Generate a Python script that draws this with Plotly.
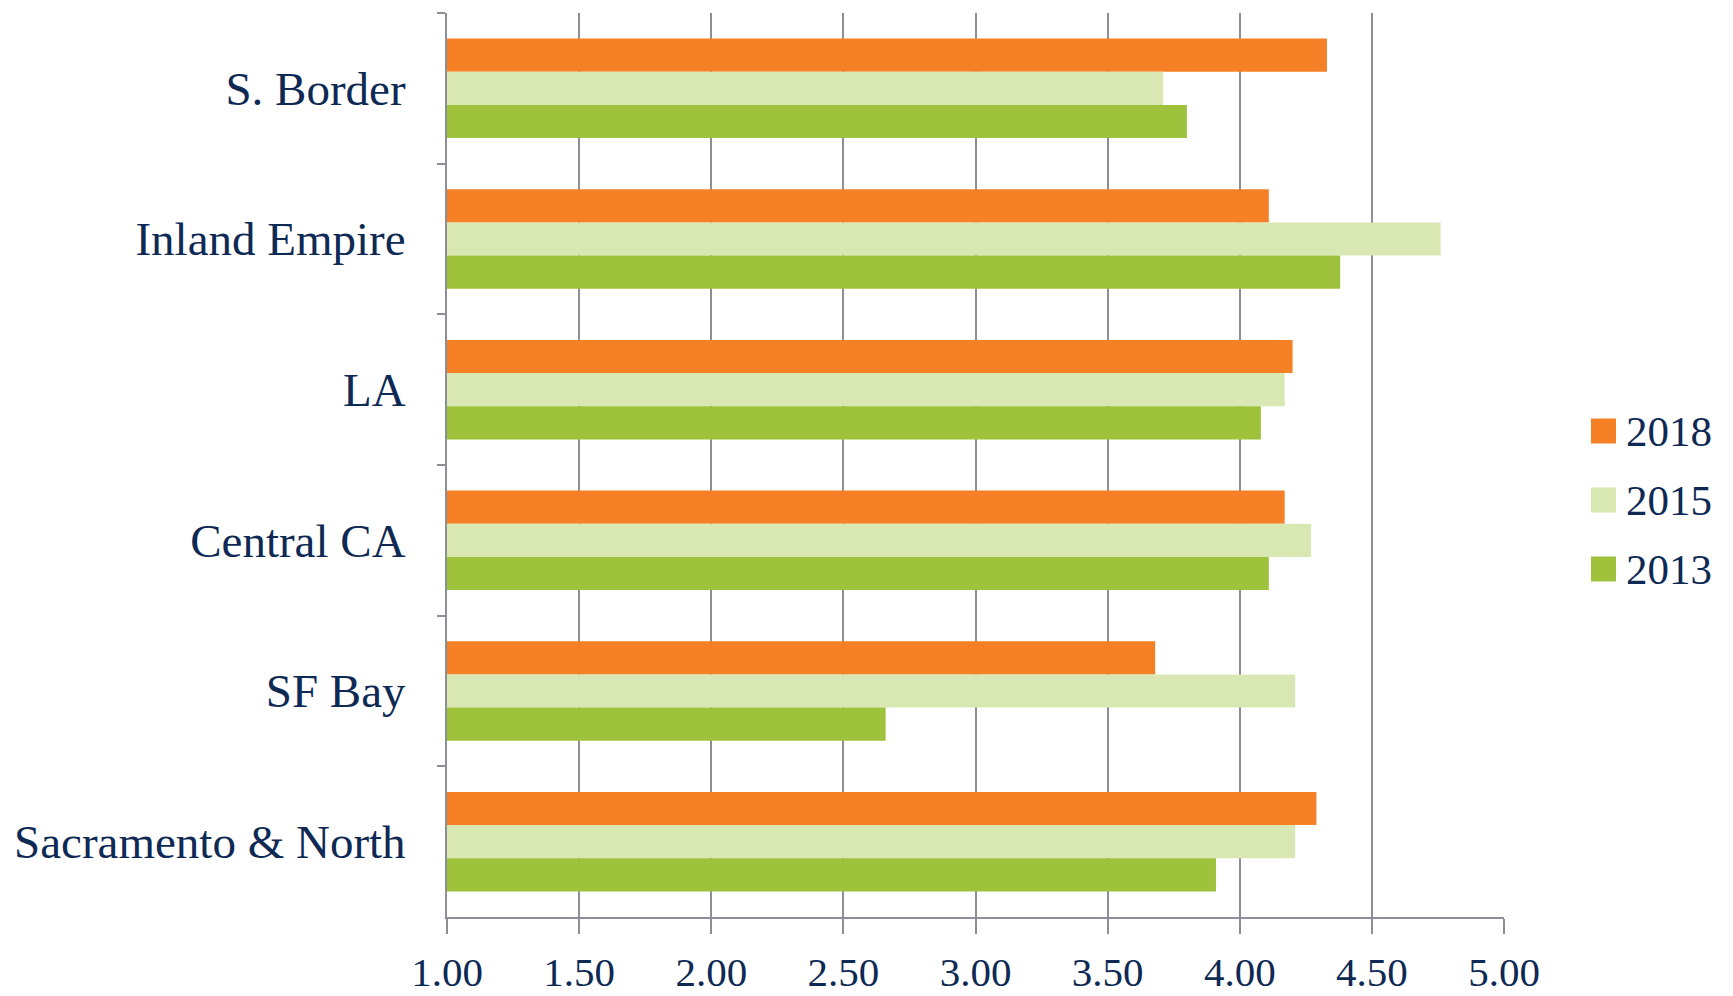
import plotly.graph_objects as go

# Regions, listed top to bottom
regions = ["S. Border", "Inland Empire", "LA", "Central CA", "SF Bay", "Sacramento & North"]

# Scores per survey year
years = ["2018", "2015", "2013"]
values_2018 = [4.33, 4.11, 4.20, 4.17, 3.68, 4.29]
values_2015 = [3.71, 4.76, 4.17, 4.27, 4.21, 4.21]
values_2013 = [3.80, 4.38, 4.08, 4.11, 2.66, 3.91]

x_ticks = [1.0, 1.5, 2.0, 2.5, 3.0, 3.5, 4.0, 4.5, 5.0]
x_tick_labels = ["1.00", "1.50", "2.00", "2.50", "3.00", "3.50", "4.00", "4.50", "5.00"]

colors = {"2018": "#F58025", "2015": "#D9E7B2", "2013": "#9FC23D"}
series = {"2018": values_2018, "2015": values_2015, "2013": values_2013}

TEXT = "#0E2A54"
GRID = "#8E8E98"
FONT = "Liberation Serif"

W, H = 1733, 996
M_L, M_R, M_T, M_B = 447, 229, 13, 79
PW, PH = W - M_L - M_R, H - M_T - M_B


def px_to_paper_x(px):
    return (px - M_L) / PW


def px_to_paper_y(py):
    return 1 - (py - M_T) / PH


fig = go.Figure()
for yr in years:
    fig.add_trace(go.Bar(
        name=yr,
        x=series[yr],
        y=regions,
        orientation="h",
        marker=dict(color=colors[yr], line=dict(width=0)),
        showlegend=False,
    ))

# Legend: square swatches with year labels at the right of the plot
sw = 25
for i, yr in enumerate(years):
    cy = 431 + i * 69
    fig.add_shape(
        type="rect", xref="paper", yref="paper",
        x0=px_to_paper_x(1591), x1=px_to_paper_x(1591 + sw),
        y0=px_to_paper_y(cy + sw / 2), y1=px_to_paper_y(cy - sw / 2),
        fillcolor=colors[yr], line=dict(width=0), layer="above",
    )
    fig.add_annotation(
        xref="paper", yref="paper",
        x=px_to_paper_x(1624), y=px_to_paper_y(cy),
        text=yr, showarrow=False, xanchor="left", yanchor="middle",
        font=dict(family=FONT, size=43, color=TEXT),
    )

fig.update_layout(
    width=W, height=H,
    margin=dict(l=M_L, r=M_R, t=M_T, b=M_B, autoexpand=False),
    paper_bgcolor="white", plot_bgcolor="white",
    barmode="group", bargap=0.34, bargroupgap=0,
    font=dict(family=FONT, color=TEXT),
    xaxis=dict(
        range=[1, 5], tickvals=x_ticks, ticktext=x_tick_labels,
        showgrid=True, gridcolor=GRID, gridwidth=1.5,
        showline=True, linecolor=GRID, linewidth=2,
        ticks="outside", ticklen=15, tickcolor=GRID, tickwidth=1.5,
        tickfont=dict(family=FONT, size=41, color=TEXT),
        ticklabelstandoff=3,
        zeroline=False, automargin=False,
    ),
    yaxis=dict(
        categoryorder="array", categoryarray=regions,
        autorange="reversed",
        showline=True, linecolor=GRID, linewidth=2,
        ticks="outside", ticklen=8, tickcolor=GRID, tickwidth=2,
        tickson="boundaries",
        showgrid=False,
        tickfont=dict(family=FONT, size=47, color=TEXT),
        ticklabelstandoff=30, automargin=False,
    ),
)

fig.write_html("out.html")
